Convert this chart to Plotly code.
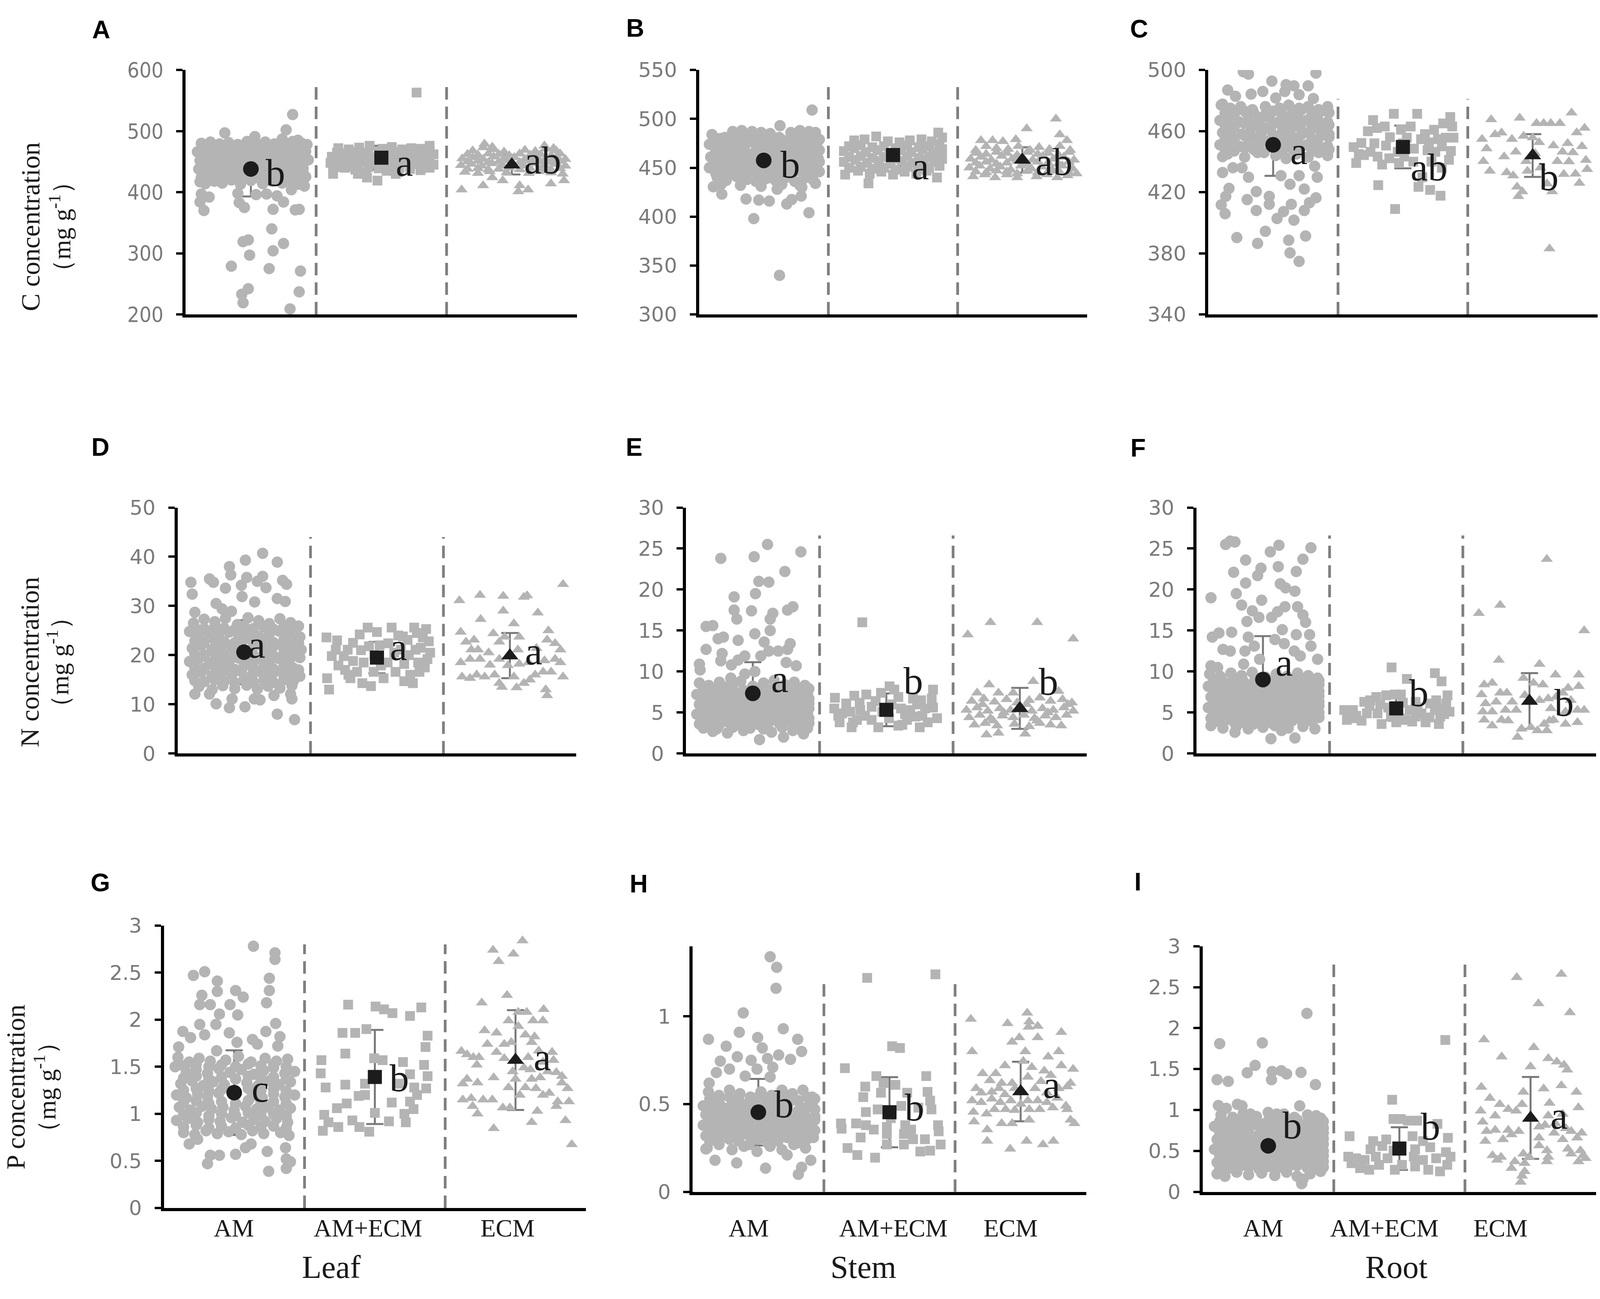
import plotly.graph_objects as go

W, H = 4550, 3326

# ---------------------------------------------------------------------------
# Data: each point is (jitter offset from the group centre,
# concentration).  Groups are AM (circles), AM+ECM (squares), ECM (triangles).
# ---------------------------------------------------------------------------
GROUPS = ["AM", "AM+ECM", "ECM"]

# ---- A: leaf C ----
A_AM = [(-0.38,480),(-0.31,482),(-0.24,479),(-0.17,481),(-0.10,478),(-0.03,483),(0.04,480),(0.11,482),(0.18,479),(0.25,481),(0.32,483),(0.39,480),(0.43,478),
        (-0.41,466),(-0.35,468),(-0.28,465),(-0.21,469),(-0.14,466),(-0.07,468),(0.00,465),(0.07,467),(0.14,469),(0.21,466),(0.28,468),(0.35,465),(0.42,467),
        (-0.39,452),(-0.32,454),(-0.25,451),(-0.18,455),(-0.11,452),(-0.04,454),(0.03,451),(0.10,453),(0.17,455),(0.24,452),(0.31,454),(0.38,451),(0.44,453),
        (-0.40,438),(-0.33,440),(-0.26,437),(-0.19,441),(-0.12,438),(-0.05,440),(0.05,437),(0.12,441),(0.19,438),(0.26,440),(0.33,437),(0.40,439),
        (-0.38,424),(-0.31,426),(-0.24,423),(-0.17,427),(-0.10,424),(-0.02,426),(0.06,423),(0.14,427),(0.21,424),(0.28,426),(0.35,423),(0.42,425),
        (-0.35,414),(-0.22,415),(-0.08,413),(0.09,414),(0.24,415),(0.36,413),
        (-0.37,474),(-0.30,473),(-0.23,475),(-0.16,474),(-0.09,472),(-0.02,475),(0.05,473),(0.12,474),(0.19,476),(0.26,473),(0.33,475),(0.40,474),
        (-0.37,460),(-0.30,459),(-0.23,461),(-0.16,460),(-0.09,458),(-0.02,461),(0.05,459),(0.12,460),(0.19,462),(0.26,459),(0.33,461),(0.40,460),
        (-0.37,446),(-0.30,445),(-0.23,447),(-0.16,446),(-0.09,444),(-0.02,447),(0.05,445),(0.12,446),(0.19,448),(0.26,445),(0.33,447),(0.40,446),
        (-0.37,432),(-0.30,431),(-0.23,433),(-0.16,432),(-0.09,430),(-0.02,433),(0.05,431),(0.12,432),(0.19,434),(0.26,431),(0.33,433),(0.40,432),
        (-0.37,419),(-0.28,418),(-0.15,420),(0.00,419),(0.16,418),(0.30,420),(0.40,418),
        (0.32,527),(0.27,502),(-0.20,497),(0.03,491),(0.24,487),(0.36,485),(-0.39,417),(-0.38,397),(-0.32,392),(-0.39,384),(-0.36,370),
        (-0.10,398),(-0.09,383),(-0.05,375),(0.04,396),(0.12,397),(0.20,394),(0.25,384),(0.17,372),(0.31,404),(0.34,371),(0.37,372),(0.41,410),
        (0.16,340),(-0.06,319),(-0.02,322),(-0.01,297),(0.25,316),(0.17,304),(-0.15,279),(0.14,275),(0.38,271),(-0.07,233),(-0.02,242),
        (-0.06,219),(0.37,237),(0.30,209)]
A_AMECM = [(-0.33,472),(-0.25,470),(-0.17,473),(-0.09,476),(0.01,471),(0.08,474),(0.16,470),(0.23,472),(0.30,471),(0.37,476),
           (-0.38,458),(-0.30,461),(-0.22,458),(-0.14,460),(-0.06,457),(0.02,460),(0.10,458),(0.18,461),(0.26,457),(0.34,459),(0.40,462),
           (-0.39,448),(-0.31,446),(-0.23,449),(-0.15,450),(-0.07,446),(0.03,447),(0.11,449),(0.19,448),(0.27,446),(0.35,449),(0.40,445),
           (-0.37,436),(-0.28,440),(-0.20,437),(-0.12,433),(0.04,435),(0.13,433),(0.22,438),(0.30,436),(0.36,441),
           (-0.34,465),(-0.26,464),(-0.18,466),(-0.10,465),(-0.02,467),(0.06,464),(0.14,466),(0.22,465),(0.30,464),(0.37,467),
           (-0.34,453),(-0.26,452),(-0.18,454),(-0.10,453),(-0.02,451),(0.06,454),(0.14,452),(0.22,453),(0.30,455),(0.37,452),
           (-0.34,441),(-0.26,442),(-0.18,440),(-0.10,441),(-0.02,439),(0.06,442),(0.14,440),(0.22,443),(0.30,441),(0.37,440),
           (-0.37,430),(-0.18,430),(-0.11,424),(-0.03,419),(0.11,430),(0.27,563),(-0.02,440)]
A_ECM = [(-0.30,468),(-0.22,473),(-0.14,470),(-0.06,466),(0.10,469),(0.18,467),(0.26,471),(0.34,468),
         (-0.38,455),(-0.30,457),(-0.22,454),(-0.14,458),(-0.06,455),(0.02,457),(0.10,454),(0.18,458),(0.26,455),(0.34,457),(0.41,454),
         (-0.39,444),(-0.31,446),(-0.23,443),(-0.15,447),(-0.07,444),(0.01,446),(0.09,443),(0.17,447),(0.25,444),(0.33,446),(0.41,443),
         (-0.36,433),(-0.26,431),(-0.17,434),(-0.04,432),(0.13,431),(0.21,434),(0.30,432),(0.39,430),
         (-0.34,462),(-0.26,461),(-0.18,463),(-0.10,462),(-0.02,460),(0.06,463),(0.14,461),(0.22,462),(0.30,460),(0.37,463),
         (-0.34,450),(-0.26,451),(-0.18,449),(-0.10,450),(-0.02,452),(0.06,449),(0.14,451),(0.22,450),(0.30,449),(0.37,451),
         (-0.34,438),(-0.26,439),(-0.18,437),(-0.10,438),(-0.02,440),(0.06,437),(0.14,439),(0.22,438),(0.30,437),(0.37,439),
         (-0.385,404),(-0.22,411),(0.05,401),(0.125,404),(0.30,414),(0.40,419),(-0.07,419),(0.06,411),(-0.15,424),
         (-0.21,479),(-0.15,474),(0.25,476),(0.32,472)]
MEAN_A = [438, 456.4, 445]
SD_A = [45, 19.5, 16]
SIG_A = ["b", "a", "ab"]

# ---- B: stem C ----
B_AM = [(-0.40,484),(-0.33,480),(-0.24,487),(-0.17,488),(-0.09,487),(-0.02,486),(0.05,485),(0.12,481),(0.21,486),(0.28,488),(0.35,487),(0.40,486),
        (-0.42,474),(-0.35,472),(-0.27,475),(-0.20,473),(-0.12,476),(-0.05,472),(0.03,474),(0.10,475),(0.18,472),(0.25,476),(0.33,473),(0.41,475),
        (-0.41,461),(-0.34,463),(-0.26,460),(-0.19,464),(-0.11,461),(-0.04,463),(0.04,460),(0.11,462),(0.19,464),(0.26,461),(0.34,463),(0.42,460),
        (-0.42,450),(-0.35,448),(-0.27,451),(-0.20,449),(-0.12,452),(-0.05,448),(0.03,450),(0.10,451),(0.18,448),(0.25,452),(0.33,449),(0.41,451),
        (-0.36,440),(-0.29,437),(-0.21,441),(-0.13,438),(-0.06,436),(0.02,439),(0.09,437),(0.17,440),(0.24,436),(0.31,439),(0.38,438),
        (-0.37,480),(-0.30,481),(-0.22,479),(-0.15,482),(-0.07,480),(0.00,479),(0.07,481),(0.15,478),(0.22,480),(0.30,482),(0.37,480),(0.43,479),
        (-0.37,468),(-0.30,467),(-0.22,469),(-0.15,468),(-0.07,466),(0.00,469),(0.07,467),(0.15,468),(0.22,470),(0.30,467),(0.37,469),(0.43,468),
        (-0.37,456),(-0.30,455),(-0.22,457),(-0.15,456),(-0.07,454),(0.00,457),(0.07,455),(0.15,456),(0.22,458),(0.30,455),(0.37,457),(0.43,456),
        (-0.37,444),(-0.30,445),(-0.22,443),(-0.15,444),(-0.07,446),(0.00,443),(0.07,445),(0.15,444),(0.22,443),(0.30,445),(0.37,444),(0.43,446),
        (-0.33,433),(-0.18,432),(-0.02,431),(0.14,433),(0.28,432),(0.40,434),
        (0.374,509),(0.126,493),(-0.39,430.5),(-0.324,423),(-0.137,418),(-0.038,417),(0.043,416),(-0.077,398),(0.178,413),(0.216,417.5),
        (0.29,421),(0.35,404),(0.122,340),(0.104,428),(0.295,430)]
B_AMECM = [(-0.30,478),(-0.22,479),(-0.13,482),(-0.04,477),(0.05,476),(0.13,478),(0.22,479),(0.30,477),(0.35,486),(0.38,481),
           (-0.38,467),(-0.30,470),(-0.21,466),(-0.12,468),(-0.03,465),(0.06,468),(0.14,466),(0.23,469),(0.31,466),(0.38,469),
           (-0.38,456),(-0.29,458),(-0.20,455),(-0.11,457),(-0.02,454),(0.07,457),(0.15,455),(0.24,458),(0.32,456),(0.38,459),
           (-0.37,443),(-0.27,447),(-0.18,444),(-0.09,446),(0.00,443),(0.09,446),(0.18,444),(0.26,447),(0.34,440),
           (-0.34,472),(-0.25,473),(-0.16,471),(-0.07,472),(0.02,470),(0.11,473),(0.20,471),(0.28,472),(0.36,474),
           (-0.34,461),(-0.25,462),(-0.16,460),(-0.07,461),(0.02,459),(0.11,462),(0.20,460),(0.28,461),(0.36,463),
           (-0.34,450),(-0.25,451),(-0.16,449),(-0.07,450),(0.02,448),(0.11,451),(0.20,449),(0.28,450),(0.36,452),
           (-0.19,434),(-0.11,451),(0.19,451)]
B_ECM = [(-0.36,468),(-0.28,472),(-0.20,470),(-0.11,469),(-0.03,472),(0.06,468),(0.13,471),(0.21,469),(0.29,472),(0.37,468),
         (-0.40,459),(-0.32,461),(-0.24,458),(-0.16,462),(-0.08,459),(0.00,461),(0.08,458),(0.16,462),(0.24,459),(0.32,461),(0.40,458),
         (-0.41,450),(-0.33,452),(-0.25,449),(-0.17,451),(-0.09,448),(-0.01,452),(0.07,449),(0.15,451),(0.23,448),(0.31,452),(0.39,449),
         (-0.38,441),(-0.29,443),(-0.21,440),(-0.12,443),(-0.04,440),(0.11,441),(0.19,443),(0.27,440),(0.35,442),(0.42,444),
         (-0.36,465),(-0.28,464),(-0.20,466),(-0.12,465),(-0.04,463),(0.04,466),(0.12,464),(0.20,465),(0.28,463),(0.36,466),
         (-0.36,455),(-0.28,456),(-0.20,454),(-0.12,455),(-0.04,457),(0.04,454),(0.12,456),(0.20,455),(0.28,454),(0.36,456),
         (-0.36,446),(-0.28,445),(-0.20,447),(-0.12,446),(-0.04,444),(0.04,447),(0.12,445),(0.20,446),(0.28,447),(0.36,445),
         (0.26,500),(0.29,484),(0.034,490),(0.345,478),(-0.32,478),(-0.23,478),(-0.15,477),(-0.05,479)]
MEAN_B = [457.5, 463, 458]
SD_B = [18, 11, 13]
SIG_B = ["b", "a", "ab"]

# ---- C: root C ----
C_AM = [(-0.40,477),(-0.33,475),(-0.25,476),(-0.16,474),(-0.06,476),(0.05,475),(0.12,477),(0.20,475),(0.27,476),(0.35,474),(0.42,476),
        (-0.41,467),(-0.34,469),(-0.26,466),(-0.19,470),(-0.11,467),(-0.04,469),(0.04,466),(0.11,468),(0.19,470),(0.26,467),(0.34,469),(0.42,466),
        (-0.39,459),(-0.32,461),(-0.24,458),(-0.17,462),(-0.09,459),(-0.02,461),(0.06,458),(0.13,460),(0.21,462),(0.28,459),(0.36,461),(0.43,458),
        (-0.41,451),(-0.34,453),(-0.26,450),(-0.19,454),(-0.11,451),(-0.04,453),(0.04,450),(0.11,452),(0.19,454),(0.26,451),(0.34,453),(0.42,450),
        (-0.35,445),(-0.22,443),(-0.12,446),(0.02,444),(0.10,442),(0.18,445),(0.27,443),(0.35,446),(0.42,444),
        (-0.37,472),(-0.30,471),(-0.22,473),(-0.15,472),(-0.07,470),(0.00,473),(0.07,471),(0.15,472),(0.22,474),(0.30,471),(0.37,473),(0.43,472),
        (-0.37,464),(-0.30,463),(-0.22,465),(-0.15,464),(-0.07,462),(0.00,465),(0.07,463),(0.15,464),(0.22,466),(0.30,463),(0.37,465),(0.43,464),
        (-0.37,456),(-0.30,455),(-0.22,457),(-0.15,456),(-0.07,454),(0.00,457),(0.07,455),(0.15,456),(0.22,458),(0.30,455),(0.37,457),(0.43,456),
        (-0.37,448),(-0.30,447),(-0.22,449),(-0.15,448),(-0.07,446),(0.00,449),(0.07,447),(0.15,448),(0.22,450),(0.30,447),(0.37,449),(0.43,448),
        (-0.23,498.8),(-0.19,497.3),(-0.01,492.7),(0.33,497.9),(0.10,490.4),(0.16,489.6),(0.27,489.6),(-0.35,486.9),(-0.17,484.2),
        (-0.08,485.9),(0.02,481.7),(0.09,485.9),(0.20,483.8),(0.31,481.3),(-0.39,477.6),(-0.29,482.8),
        (-0.39,443.3),(-0.39,432.9),(-0.31,436),(-0.34,422.5),(-0.365,417.3),(-0.40,411.7),(-0.37,405.9),(-0.28,390.3),(-0.20,415.2),
        (-0.13,420.4),(-0.13,408),(-0.12,386.5),(-0.06,394.4),(-0.03,417.3),(-0.03,412.1),(0.03,402.8),(0.08,407.3),(0.13,425.2),
        (0.14,412.1),(0.12,388.6),(0.13,380.3),(0.16,401.7),(0.20,374.7),(0.24,422.1),(0.24,408),(0.25,391.3),(0.28,413.1),
        (0.33,416.3),(0.34,429.8),(0.32,437),(0.20,430.8),(0.06,430.8),(-0.19,429.8),(-0.24,436)]
C_AMECM = [(-0.38,449.5),(-0.36,439.1),(-0.32,452.2),(-0.27,459.9),(-0.23,467.2),(-0.195,443.3),(-0.19,424.6),(-0.16,438.1),(-0.14,463),
           (-0.105,442.2),(-0.07,471.3),(-0.06,409),(-0.04,446.4),(-0.03,439.1),(-0.015,460.9),(0.03,455.7),(0.06,463),(0.085,448.5),
           (0.11,471.3),(0.12,423.5),(0.14,454.7),(0.15,429.8),(0.19,447.4),(0.21,421.5),(0.24,460.9),(0.25,446.4),(0.29,417.7),
           (0.30,436),(0.33,455.7),(0.355,441.2),(0.365,469.2),(0.38,463),(0.39,455.7),(0.01,443.3),(-0.25,446.4),(-0.13,450.5),
           (0.27,454.7),(0.20,452.6),(0.31,465),(-0.30,444.3),
           (-0.34,445),(-0.22,452),(-0.10,456),(0.00,452),(0.08,440),(0.17,458),(0.30,450),(0.37,447),(-0.20,462),(0.22,440)]
C_ECM = [(-0.39,454.7),(-0.32,467.6),(-0.10,468.6),(-0.355,448.5),(-0.38,440.2),(-0.33,433.9),(-0.29,457.8),(-0.24,458.9),(-0.22,443.3),
         (-0.20,432.9),(-0.16,454.7),(-0.15,430.8),(-0.13,446.4),(-0.12,423.5),(-0.11,417.3),(-0.08,420.4),(-0.07,456.8),(-0.05,440.2),
         (-0.04,433.9),(0.03,465.1),(0.05,452.6),(0.06,436),(0.085,465.1),(0.11,425.6),(0.13,383),(0.14,465.1),(0.16,450.5),
         (0.19,440.2),(0.21,465.1),(0.23,446.4),(0.24,431.8),(0.15,420.4),(0.00,455.7),(0.02,445.3),
         (0.30,472),(0.34,459),(0.38,450),(0.41,441),(0.28,440),(0.33,432),(0.36,426),(0.40,462),(0.27,452),(0.31,446),(0.42,435)]
MEAN_C = [451, 449.6, 444]
SD_C = [20.3, 14, 14]
SIG_C = ["a", "ab", "b"]

# ---- D: leaf N ----
D_AM = [(-0.38,26.5),(-0.30,27.3),(-0.22,26.8),(-0.14,27.5),(-0.05,26.2),(0.03,27.6),(0.11,27.0),(0.19,26.4),(0.27,27.4),(0.35,26.6),(0.41,25.9),
        (-0.41,24.8),(-0.34,24.0),(-0.26,24.5),(-0.19,23.9),(-0.11,24.7),(-0.04,24.1),(0.04,24.6),(0.11,23.8),(0.19,24.4),(0.26,24.9),(0.34,24.2),(0.42,23.7),
        (-0.39,21.4),(-0.32,22.0),(-0.24,21.2),(-0.17,21.8),(-0.09,21.5),(-0.02,22.1),(0.06,21.3),(0.13,21.9),(0.21,21.4),(0.28,22.0),(0.36,21.6),(0.43,21.1),
        (-0.41,18.7),(-0.34,19.3),(-0.26,18.5),(-0.19,19.1),(-0.11,18.8),(-0.04,19.4),(0.04,18.6),(0.11,19.2),(0.19,18.7),(0.26,19.3),(0.34,18.9),(0.42,19.5),
        (-0.39,16.0),(-0.32,16.6),(-0.24,15.8),(-0.17,16.4),(-0.09,16.1),(-0.02,16.7),(0.06,15.9),(0.13,16.5),(0.21,16.0),(0.28,16.6),(0.36,16.2),(0.42,15.7),
        (-0.34,13.6),(-0.24,13.0),(-0.16,13.8),(-0.07,13.2),(0.02,13.9),(0.10,13.1),(0.18,13.7),(0.27,13.3),(0.36,13.8),
        (-0.37,25.6),(-0.30,25.4),(-0.22,25.8),(-0.15,25.5),(-0.07,25.2),(0.00,25.9),(0.07,25.4),(0.15,25.7),(0.22,25.3),(0.30,25.8),(0.37,25.5),
        (-0.37,22.9),(-0.30,22.7),(-0.22,23.1),(-0.15,22.8),(-0.07,22.5),(0.00,23.2),(0.07,22.7),(0.15,23.0),(0.22,22.6),(0.30,23.1),(0.37,22.8),(0.41,22.4),
        (-0.37,20.2),(-0.30,20.0),(-0.22,20.4),(-0.15,20.1),(-0.07,19.8),(0.00,20.5),(0.07,20.0),(0.15,20.3),(0.22,19.9),(0.30,20.4),(0.37,20.1),(0.41,19.7),
        (-0.37,17.5),(-0.30,17.3),(-0.22,17.7),(-0.15,17.4),(-0.07,17.1),(0.00,17.8),(0.07,17.3),(0.15,17.6),(0.22,17.2),(0.30,17.7),(0.37,17.4),(0.41,17.0),
        (-0.37,14.8),(-0.30,14.6),(-0.22,15.0),(-0.15,14.7),(-0.07,14.4),(0.00,15.1),(0.07,14.6),(0.15,14.9),(0.22,14.5),(0.30,15.0),(0.37,14.7),
        (0.14,40.7),(0.01,39.3),(0.25,38.9),(-0.11,38.0),(-0.10,36.3),(0.02,35.8),(0.14,36.0),(-0.40,34.8),(-0.26,35.5),(-0.23,34.8),
        (-0.14,33.6),(-0.02,34.2),(0.10,35.0),(0.165,33.7),(0.29,35.2),(0.32,34.4),(-0.39,32.4),(-0.015,31.9),(0.25,31.5),(0.31,30.9),
        (-0.37,28.7),(-0.21,30.5),(-0.165,29.4),(-0.095,28.9),(0.08,30.8),(-0.37,12.1),(-0.21,10.1),(-0.11,9.3),(-0.09,11.1),
        (0.007,9.5),(0.077,11.1),(0.12,10.9),(0.225,11.8),(0.25,8.0),(0.36,11.1),(0.38,6.9),(-0.26,12.1),(0.35,12.1)]
D_AMECM = [(-0.38,23.6),(-0.375,15.3),(-0.36,13.0),(-0.34,19.8),(-0.29,17.9),(-0.25,19.8),(-0.22,21.1),(-0.215,16.0),(-0.18,18.8),
           (-0.15,16.6),(-0.13,24.2),(-0.11,14.3),(-0.07,25.6),(-0.06,21.8),(-0.045,13.7),(-0.025,16.6),(0.00,24.7),(0.03,17.9),
           (0.05,15.3),(0.11,25.6),(0.13,20.5),(0.14,16.6),(0.18,21.1),(0.205,18.2),(0.23,23.1),(0.25,16.0),(0.27,14.3),(0.28,25.6),
           (0.29,21.1),(0.31,18.5),(0.32,16.6),(0.345,23.6),(0.37,25.3),(0.38,19.2),(0.39,22.8),(0.40,20.5),(0.205,14.7),(-0.20,15.3),
           (-0.31,21.1),(0.085,22.4),(-0.10,18.5),(0.195,23.8),
           (-0.30,23.0),(-0.18,22.5),(-0.02,20.0),(0.08,18.5),(0.24,20.0),(0.33,21.5),(-0.12,21.0),(0.16,24.0),(-0.24,17.0),(0.02,22.0),
           (0.30,24.5),(0.36,17.5)]
D_ECM = [(-0.38,31.1),(-0.225,32.2),(-0.05,32.0),(0.105,31.8),(0.13,32.1),(0.40,34.4),(-0.05,29.0),(0.21,28.6),(-0.22,27.3),(0.03,26.4),
         (-0.37,24.7),(0.29,25.0),(-0.125,24.4),(-0.33,22.7),(-0.27,23.1),(0.34,22.4),(0.07,23.7),(-0.08,22.7),(-0.29,21.1),(-0.24,21.1),
         (0.20,21.4),(0.28,23.1),(-0.37,18.5),(-0.30,19.2),(-0.225,19.2),(-0.15,18.0),(-0.08,19.2),(-0.015,17.9),(0.14,18.5),(0.26,18.9),
         (0.34,19.2),(0.38,18.5),(-0.36,15.6),(-0.30,15.3),(-0.25,16.0),(-0.19,15.6),(-0.115,16.0),(-0.08,14.3),(-0.06,13.5),(0.03,15.6),
         (0.05,13.4),(0.105,14.3),(0.15,15.0),(0.19,16.0),(0.25,16.6),(0.27,13.0),(0.28,11.8),(0.40,15.6),(0.31,16.6),(0.07,18.2),
         (-0.16,20.5),(0.38,21.1),(0.06,21.1),(-0.04,23.7)]
MEAN_D = [20.6, 19.5, 19.9]
SD_D = [6.5, 3.2, 4.6]
SIG_D = ["a", "a", "a"]

# ---- E: stem N ----
E_AM = [(-0.40,8.6),(-0.33,8.3),(-0.25,8.7),(-0.17,8.4),(-0.09,8.8),(0.00,8.2),(0.08,8.6),(0.16,8.9),(0.24,8.4),(0.31,8.7),(0.39,8.3),
        (-0.42,7.2),(-0.35,7.5),(-0.27,7.1),(-0.20,7.4),(-0.12,7.2),(-0.05,7.6),(0.03,7.1),(0.10,7.4),(0.18,7.2),(0.25,7.5),(0.33,7.1),(0.41,7.4),
        (-0.40,6.0),(-0.33,6.3),(-0.25,5.9),(-0.18,6.2),(-0.10,6.0),(-0.03,6.3),(0.05,5.9),(0.12,6.2),(0.20,6.0),(0.27,6.3),(0.35,5.9),(0.42,6.1),
        (-0.42,4.8),(-0.35,5.1),(-0.27,4.7),(-0.20,5.0),(-0.12,4.8),(-0.05,5.1),(0.03,4.7),(0.10,5.0),(0.18,4.8),(0.25,5.1),(0.33,4.7),(0.41,5.0),
        (-0.40,3.6),(-0.33,3.9),(-0.25,3.5),(-0.18,3.8),(-0.10,3.6),(-0.03,3.9),(0.05,3.5),(0.12,3.8),(0.20,3.6),(0.27,3.9),(0.35,3.5),(0.42,3.7),
        (-0.30,2.7),(-0.19,2.5),(-0.07,2.8),(0.14,2.6),(0.30,2.8),(0.38,2.4),
        (-0.37,7.9),(-0.30,7.8),(-0.22,8.0),(-0.15,7.9),(-0.07,7.7),(0.00,8.0),(0.07,7.8),(0.15,7.9),(0.22,8.1),(0.30,7.8),(0.37,8.0),(0.42,7.9),
        (-0.37,6.7),(-0.30,6.6),(-0.22,6.8),(-0.15,6.7),(-0.07,6.5),(0.00,6.8),(0.07,6.6),(0.15,6.7),(0.22,6.9),(0.30,6.6),(0.37,6.8),(0.42,6.7),
        (-0.37,5.5),(-0.30,5.4),(-0.22,5.6),(-0.15,5.5),(-0.07,5.3),(0.00,5.6),(0.07,5.4),(0.15,5.5),(0.22,5.7),(0.30,5.4),(0.37,5.6),(0.42,5.5),
        (-0.37,4.3),(-0.30,4.2),(-0.22,4.4),(-0.15,4.3),(-0.07,4.1),(0.00,4.4),(0.07,4.2),(0.15,4.3),(0.22,4.5),(0.30,4.2),(0.37,4.4),(0.42,4.3),
        (-0.37,3.1),(-0.27,3.0),(-0.15,3.2),(-0.02,3.1),(0.08,3.0),(0.22,3.2),(0.33,3.0),(0.41,3.1),
        (0.11,25.5),(-0.24,23.8),(0.01,24.0),(0.36,24.6),(0.24,22.2),(0.045,21.0),(0.12,20.9),(0.02,19.5),(-0.14,19.1),(-0.14,17.5),
        (-0.01,17.4),(0.15,17.1),(0.30,17.9),(0.26,17.5),(0.13,16.4),(-0.12,16.4),(-0.35,15.5),(-0.30,15.6),(-0.26,14.0),(-0.22,14.2),
        (-0.11,13.8),(0.015,14.6),(0.085,13.6),(0.13,15.0),(0.28,13.4),(-0.35,12.7),(-0.23,12.2),(-0.11,11.4),(-0.06,11.9),(0.06,11.9),
        (0.12,12.5),(0.19,12.5),(0.26,12.7),(-0.40,10.9),(-0.395,10.2),(-0.24,11.3),(-0.16,10.8),(0.325,10.7),(0.25,11.1),(-0.165,9.2),
        (-0.06,9.7),(0.015,10.0),(0.05,1.7),(0.23,2.0)]
E_AMECM = [(-0.18,16.0),(-0.385,6.8),(-0.24,7.05),(0.024,8.2),(0.35,7.8),(0.34,6.7),(0.29,5.5),(-0.39,5.5),(-0.35,3.8),(-0.26,3.2),
           (-0.06,3.2),(0.09,3.4),(0.25,3.2),(0.38,4.3),(-0.27,5.1),(-0.195,5.3),(-0.11,5.7),(-0.03,5.1),(0.11,5.5),(0.18,5.3),
           (0.22,4.5),(-0.11,4.1),(0.155,4.1),(-0.33,4.9),(-0.15,7.2),(-0.04,7.4),(0.09,6.9),(0.20,6.7),(-0.22,4.1),(0.02,4.3),
           (0.31,3.8),(-0.30,6.1),(0.26,6.5),
           (-0.36,4.6),(-0.30,5.6),(-0.20,6.2),(-0.08,6.4),(0.04,6.0),(0.14,4.8),(0.27,4.6),(0.35,5.6),(-0.16,4.6),(0.00,5.2),
           (0.23,6.0),(-0.25,3.8),(0.12,3.5),(0.06,7.8)]
E_ECM = [(-0.39,14.5),(-0.22,16.0),(0.13,16.0),(0.40,14.0),(-0.23,8.4),(0.10,8.8),(-0.32,7.4),(-0.16,7.4),(-0.05,7.4),(0.29,7.6),
         (-0.25,2.3),(-0.16,2.5),(0.04,2.4),
         (-0.36,6.4),(-0.27,6.7),(-0.19,6.3),(-0.10,6.6),(-0.02,6.2),(0.07,6.5),(0.15,6.8),(0.23,6.4),(0.32,6.6),(0.39,6.2),
         (-0.40,5.3),(-0.32,5.6),(-0.24,5.2),(-0.15,5.5),(-0.07,5.3),(0.01,5.6),(0.09,5.2),(0.17,5.5),(0.25,5.3),(0.33,5.6),(0.40,5.2),
         (-0.38,4.4),(-0.30,4.7),(-0.22,4.3),(-0.13,4.6),(-0.05,4.4),(0.03,4.7),(0.11,4.3),(0.19,4.6),(0.27,4.4),(0.35,4.7),
         (-0.34,3.5),(-0.26,3.7),(-0.17,3.4),(-0.04,3.6),(0.07,3.3),(0.15,3.7),(0.23,3.5),(0.31,3.4),
         (-0.28,6.0),(-0.12,5.0),(0.05,6.0),(0.21,5.0),(0.36,6.0),(-0.20,4.0),(0.13,4.0)]
MEAN_E = [7.34, 5.33, 5.51]
SD_E = [3.8, 2.0, 2.5]
SIG_E = ["a", "b", "b"]

# ---- F: root N ----
F_AM = [(-0.40,9.7),(-0.32,9.4),(-0.24,9.8),(-0.16,9.5),(-0.08,9.9),(0.02,9.3),(0.10,9.7),(0.18,9.4),(0.26,9.8),(0.34,9.5),(0.41,9.2),
        (-0.41,8.2),(-0.34,8.5),(-0.26,8.1),(-0.19,8.4),(-0.11,8.2),(-0.04,8.5),(0.04,8.1),(0.11,8.4),(0.19,8.2),(0.26,8.5),(0.34,8.1),(0.42,8.4),
        (-0.39,6.9),(-0.32,7.2),(-0.24,6.8),(-0.17,7.1),(-0.09,6.9),(-0.02,7.2),(0.06,6.8),(0.13,7.1),(0.21,6.9),(0.28,7.2),(0.36,6.8),(0.42,7.0),
        (-0.41,5.6),(-0.34,5.9),(-0.26,5.5),(-0.19,5.8),(-0.11,5.6),(-0.04,5.9),(0.04,5.5),(0.11,5.8),(0.19,5.6),(0.26,5.9),(0.34,5.5),(0.42,5.8),
        (-0.39,4.3),(-0.32,4.6),(-0.24,4.2),(-0.17,4.5),(-0.09,4.3),(-0.02,4.6),(0.06,4.2),(0.13,4.5),(0.21,4.3),(0.28,4.6),(0.36,4.2),(0.42,4.4),
        (-0.39,3.4),(-0.30,3.1),(-0.20,3.3),(-0.11,3.0),(0.00,3.2),(0.09,3.4),(0.19,3.1),(0.30,3.3),(0.39,3.0),
        (-0.37,8.9),(-0.30,8.8),(-0.22,9.0),(-0.15,8.9),(-0.07,8.7),(0.00,9.0),(0.07,8.8),(0.15,8.9),(0.22,9.1),(0.30,8.8),(0.37,9.0),(0.42,8.9),
        (-0.37,7.6),(-0.30,7.5),(-0.22,7.7),(-0.15,7.6),(-0.07,7.4),(0.00,7.7),(0.07,7.5),(0.15,7.6),(0.22,7.8),(0.30,7.5),(0.37,7.7),(0.42,7.6),
        (-0.37,6.3),(-0.30,6.2),(-0.22,6.4),(-0.15,6.3),(-0.07,6.1),(0.00,6.4),(0.07,6.2),(0.15,6.3),(0.22,6.5),(0.30,6.2),(0.37,6.4),(0.42,6.3),
        (-0.37,5.0),(-0.30,4.9),(-0.22,5.1),(-0.15,5.0),(-0.07,4.8),(0.00,5.1),(0.07,4.9),(0.15,5.0),(0.22,5.2),(0.30,4.9),(0.37,5.1),(0.42,5.0),
        (-0.37,3.8),(-0.30,3.7),(-0.22,3.9),(-0.15,3.8),(-0.07,3.6),(0.00,3.9),(0.07,3.7),(0.15,3.8),(0.22,4.0),(0.30,3.7),(0.37,3.9),
        (-0.28,25.5),(-0.245,25.9),(-0.21,25.8),(0.12,25.4),(0.055,24.6),(0.36,25.1),(-0.13,23.6),(0.30,23.7),(-0.015,22.6),(0.115,22.8),
        (-0.04,21.7),(-0.22,22.1),(0.25,22.2),(-0.39,19.0),(-0.20,19.5),(-0.13,20.8),(-0.01,18.7),(0.13,20.7),(0.17,20.2),(0.24,19.8),
        (-0.16,18.1),(-0.08,17.4),(0.065,16.6),(0.11,17.3),(0.165,17.9),(0.26,17.9),(0.30,16.9),(0.32,16.0),(-0.12,16.1),(-0.03,16.6),
        (-0.38,14.2),(-0.33,14.7),(-0.235,14.8),(-0.11,14.2),(0.145,15.1),(0.25,14.5),(0.35,14.5),(0.09,13.9),(0.16,13.4),(-0.30,12.7),
        (-0.245,12.5),(-0.135,12.5),(-0.065,13.1),(0.235,12.5),(0.36,13.1),(0.41,11.5),(-0.39,10.7),(-0.34,10.5),(-0.145,10.9),
        (-0.025,11.5),(0.28,11.9),(0.06,1.8),(0.24,1.9),(-0.21,2.6),(0.14,2.8)]
F_AMECM = [(-0.39,5.3),(-0.37,4.1),(-0.325,5.3),(-0.26,4.0),(-0.24,6.3),(-0.195,6.5),(-0.15,6.9),(-0.14,4.9),(-0.11,3.6),(-0.075,7.1),
           (-0.04,4.5),(-0.01,7.2),(0.035,7.2),(0.07,4.1),(0.10,5.3),(0.145,4.5),(0.19,4.9),(0.22,3.8),(0.255,6.1),(0.29,5.3),
           (0.32,3.6),(0.34,5.5),(0.375,6.1),(0.40,5.1),(-0.22,4.9),(0.025,4.3),(0.33,4.5),(0.145,6.3),(-0.33,4.3),
           (-0.30,4.6),(-0.20,5.8),(-0.06,5.6),(0.05,6.2),(0.16,5.6),(0.25,4.4),(0.36,4.8),(-0.12,6.0),(0.30,6.5),(-0.36,4.8),
           (0.12,3.9),(0.00,3.8),
           (-0.035,10.5),(0.29,9.8),(0.08,9.1),(0.34,8.8),(0.385,7.1)]
F_ECM = [(0.13,23.7),(-0.22,18.1),(-0.38,17.1),(0.41,15.0),(-0.23,11.4),(0.075,10.9),(0.37,9.6),(0.195,9.6),(-0.045,9.2),(-0.28,8.6),
         (-0.34,8.4),(0.37,8.2),(0.03,8.6),(0.10,8.4),(-0.17,7.4),(-0.22,7.4),(-0.36,7.2),(0.29,8.0),(0.25,7.4),(-0.33,6.1),
         (-0.25,6.3),(-0.13,6.3),(-0.035,7.1),(0.075,6.5),(0.14,6.7),(0.20,6.9),(0.31,6.5),(-0.35,5.1),(-0.28,5.1),(-0.18,5.3),
         (-0.10,5.3),(0.16,5.5),(0.27,5.1),(0.36,5.3),(0.41,5.3),(-0.34,4.1),(-0.28,3.4),(-0.21,4.1),(-0.16,4.0),(-0.06,3.0),
         (-0.09,2.0),(0.01,3.2),(0.06,2.8),(0.11,3.6),(0.15,4.0),(0.18,4.1),(0.27,3.6),(0.36,3.8),(0.13,2.8)]
MEAN_F = [9.02, 5.51, 6.4]
SD_F = [5.3, 1.5, 3.4]
SIG_F = ["a", "b", "b"]

# ---- G: leaf P ----
G_AM = [(-0.40,1.60),(-0.32,1.55),(-0.25,1.59),(-0.17,1.56),(-0.06,1.57),(0.03,1.61),(0.12,1.55),(0.22,1.59),(0.30,1.56),(0.38,1.58),
        (-0.42,1.50),(-0.34,1.44),(-0.27,1.47),(-0.19,1.43),(-0.11,1.48),(-0.03,1.44),(0.05,1.47),(0.14,1.42),(0.21,1.46),(0.28,1.49),(0.36,1.43),(0.43,1.45),
        (-0.38,1.32),(-0.30,1.35),(-0.22,1.30),(-0.15,1.34),(-0.07,1.31),(0.09,1.33),(0.17,1.30),(0.25,1.35),(0.32,1.31),(0.40,1.34),
        (-0.41,1.20),(-0.34,1.17),(-0.26,1.21),(-0.19,1.18),(-0.11,1.22),(0.13,1.19),(0.20,1.17),(0.28,1.21),(0.36,1.18),(0.43,1.20),
        (-0.39,1.07),(-0.31,1.04),(-0.23,1.08),(-0.16,1.05),(-0.08,1.07),(0.00,1.04),(0.08,1.08),(0.16,1.05),(0.24,1.07),(0.32,1.04),(0.40,1.06),
        (-0.41,0.93),(-0.33,0.95),(-0.26,0.91),(-0.18,0.94),(-0.10,0.92),(-0.02,0.96),(0.06,0.91),(0.14,0.94),(0.22,0.92),(0.30,0.95),(0.38,0.91),
        (-0.36,0.80),(-0.28,0.78),(-0.20,0.82),(-0.12,0.79),(-0.04,0.81),(0.05,0.78),(0.13,0.82),(0.21,0.79),(0.33,0.80),(0.39,0.77),
        (-0.36,1.51),(-0.27,1.53),(-0.18,1.50),(-0.09,1.52),(0.01,1.50),(0.10,1.53),(0.19,1.51),(0.28,1.52),(0.37,1.50),
        (-0.36,1.38),(-0.27,1.40),(-0.18,1.37),(-0.09,1.39),(0.01,1.37),(0.10,1.40),(0.19,1.38),(0.28,1.39),(0.37,1.37),
        (-0.36,1.25),(-0.27,1.27),(-0.18,1.24),(-0.09,1.26),(0.10,1.27),(0.19,1.25),(0.28,1.26),(0.37,1.24),
        (-0.36,1.12),(-0.27,1.14),(-0.18,1.11),(-0.09,1.13),(0.01,1.11),(0.10,1.14),(0.19,1.12),(0.28,1.13),(0.37,1.11),
        (-0.36,0.99),(-0.27,1.01),(-0.18,0.98),(-0.09,1.00),(0.01,0.98),(0.10,1.01),(0.19,0.99),(0.28,1.00),(0.37,0.98),
        (-0.36,0.86),(-0.27,0.88),(-0.18,0.85),(-0.09,0.87),(0.01,0.85),(0.10,0.88),(0.19,0.86),(0.28,0.87),(0.37,0.85),
        (0.137,2.78),(0.29,2.71),(0.29,2.64),(-0.29,2.47),(-0.21,2.51),(-0.12,2.41),(0.25,2.44),(-0.23,2.26),(-0.12,2.30),(0.01,2.31),
        (0.064,2.24),(0.25,2.31),(-0.245,2.16),(-0.17,2.16),(-0.03,2.16),(0.23,2.18),(-0.105,2.06),(0.025,2.05),(-0.245,1.95),(-0.13,1.95),
        (-0.035,1.86),(0.295,1.96),(0.225,1.875),(-0.365,1.875),(-0.21,1.84),(-0.31,1.81),(0.02,1.76),(0.13,1.79),(0.165,1.74),(0.325,1.82),
        (-0.125,1.67),(0.31,1.72),(-0.395,1.71),(-0.19,0.47),(-0.17,0.56),(-0.105,0.56),(0.01,0.57),(0.245,0.39),(0.235,0.60),(0.37,0.52),
        (0.40,0.49),(0.37,0.42),(0.08,0.64),(0.365,0.64),(-0.32,0.68),(-0.26,0.73),(0.12,0.68)]
G_AMECM = [(-0.19,2.16),(0.005,2.14),(0.065,2.11),(0.125,2.07),(0.25,2.04),(0.33,2.13),(-0.23,1.86),(-0.14,1.86),(-0.06,1.90),(0.375,1.83),
           (-0.21,1.64),(-0.38,1.57),(-0.005,1.59),(0.055,1.57),(0.20,1.55),(0.36,1.71),(0.35,1.52),(-0.385,1.43),(0.25,1.42),(0.375,1.40),
           (-0.35,1.28),(-0.21,1.31),(-0.07,1.32),(-0.07,1.20),(0.17,1.32),(0.28,1.28),(0.365,1.27),(-0.115,1.19),(0.30,1.20),(-0.20,1.11),
           (0.12,1.12),(0.25,1.13),(-0.27,1.06),(0.275,1.05),(-0.36,0.99),(0.00,1.01),(0.21,1.00),(-0.33,0.91),(-0.16,0.93),(0.10,0.92),
           (0.22,0.91),(-0.37,0.82),(-0.26,0.86),(-0.11,0.86),(-0.04,0.81)]
G_ECM = [(0.05,2.84),(-0.16,2.74),(-0.015,2.70),(-0.12,2.62),(-0.06,2.26),(-0.24,2.18),(0.20,2.11),(0.02,2.08),(0.08,2.08),(0.195,1.99),
         (-0.05,1.99),(0.125,1.99),(-0.22,1.885),(-0.135,1.86),(0.02,1.93),(0.07,1.84),(0.135,1.82),(-0.20,1.74),(-0.08,1.74),(-0.03,1.76),
         (0.115,1.76),(0.165,1.67),(-0.385,1.665),(-0.345,1.63),(-0.30,1.60),(-0.26,1.60),(-0.135,1.655),(0.26,1.655),(-0.275,1.52),
         (-0.08,1.59),(0.09,1.60),(0.195,1.55),(0.27,1.57),(-0.02,1.45),(0.06,1.49),(0.105,1.47),(0.23,1.45),(0.29,1.44),(0.33,1.40),
         (-0.155,1.385),(0.00,1.37),(0.115,1.37),(0.175,1.385),(0.33,1.33),(-0.375,1.32),(-0.345,1.37),(-0.27,1.33),(-0.05,1.28),
         (0.07,1.28),(0.145,1.27),(0.37,1.27),(0.24,1.22),(0.195,1.20),(0.03,1.20),(0.30,1.13),(0.38,1.13),(-0.375,1.15),(-0.315,1.165),
         (-0.23,1.15),(-0.165,1.15),(-0.305,1.08),(-0.27,1.00),(-0.09,1.065),(-0.04,1.065),(0.155,1.03),(0.29,1.08),(0.115,0.91),
         (-0.155,0.845),(0.355,0.93),(0.40,0.675)]
MEAN_G = [1.225, 1.392, 1.571]
SD_G = [0.45, 0.5, 0.53]
SIG_G = ["c", "b", "a"]

# ---- H: stem P ----
H_AM = [(-0.38,0.57),(-0.30,0.55),(-0.22,0.58),(-0.14,0.56),(-0.06,0.54),(0.02,0.57),(0.10,0.55),(0.18,0.58),(0.26,0.56),(0.34,0.58),(0.41,0.54),
        (-0.42,0.49),(-0.35,0.51),(-0.27,0.48),(-0.20,0.50),(-0.12,0.49),(-0.05,0.52),(0.03,0.48),(0.10,0.51),(0.18,0.49),(0.25,0.52),(0.33,0.48),(0.41,0.50),
        (-0.40,0.44),(-0.33,0.42),(-0.25,0.45),(-0.18,0.43),(-0.10,0.45),(-0.03,0.42),(0.05,0.44),(0.12,0.43),(0.20,0.45),(0.27,0.42),(0.35,0.44),(0.43,0.43),
        (-0.42,0.38),(-0.35,0.36),(-0.27,0.39),(-0.20,0.37),(-0.12,0.39),(-0.05,0.36),(0.03,0.38),(0.10,0.37),(0.18,0.39),(0.25,0.36),(0.33,0.38),(0.41,0.37),
        (-0.40,0.32),(-0.33,0.30),(-0.25,0.33),(-0.18,0.31),(-0.10,0.33),(-0.03,0.30),(0.05,0.32),(0.12,0.31),(0.20,0.33),(0.27,0.30),(0.35,0.32),(0.42,0.31),
        (-0.39,0.25),(-0.30,0.27),(-0.20,0.24),(-0.11,0.26),(-0.01,0.23),(0.09,0.26),(0.18,0.24),(0.27,0.27),(0.36,0.25),
        (-0.37,0.53),(-0.30,0.52),(-0.22,0.54),(-0.15,0.53),(-0.07,0.51),(0.00,0.54),(0.07,0.52),(0.15,0.53),(0.22,0.55),(0.30,0.52),(0.37,0.54),(0.43,0.53),
        (-0.37,0.47),(-0.30,0.46),(-0.22,0.48),(-0.15,0.47),(-0.07,0.45),(0.00,0.48),(0.07,0.46),(0.15,0.47),(0.22,0.49),(0.30,0.46),(0.37,0.48),(0.43,0.47),
        (-0.37,0.41),(-0.30,0.40),(-0.22,0.42),(-0.15,0.41),(-0.07,0.39),(0.00,0.42),(0.07,0.40),(0.15,0.41),(0.22,0.43),(0.30,0.40),(0.37,0.42),(0.43,0.41),
        (-0.37,0.35),(-0.30,0.34),(-0.22,0.36),(-0.15,0.35),(-0.07,0.33),(0.00,0.36),(0.07,0.34),(0.15,0.35),(0.22,0.37),(0.30,0.34),(0.37,0.36),(0.43,0.35),
        (-0.37,0.29),(-0.30,0.28),(-0.22,0.30),(-0.15,0.29),(-0.07,0.27),(0.00,0.30),(0.07,0.28),(0.15,0.29),(0.22,0.31),(0.30,0.28),(0.37,0.30),
        (0.09,1.34),(0.14,1.28),(0.135,1.16),(-0.115,1.02),(0.19,0.93),(-0.38,0.87),(-0.145,0.91),(-0.005,0.88),(0.30,0.87),(-0.245,0.83),
        (0.03,0.82),(0.33,0.80),(-0.29,0.745),(-0.16,0.77),(-0.055,0.75),(0.07,0.76),(0.155,0.78),(0.245,0.755),(-0.22,0.70),(-0.01,0.70),
        (0.11,0.71),(-0.375,0.62),(-0.32,0.68),(-0.10,0.66),(0.09,0.655),(-0.33,0.18),(-0.165,0.165),(0.055,0.135),(0.305,0.10),
        (0.33,0.14),(0.40,0.18),(-0.40,0.245),(0.22,0.21)]
H_AMECM = [(-0.17,1.22),(0.35,1.24),(0.02,0.83),(0.08,0.82),(-0.34,0.705),(-0.10,0.66),(0.28,0.66),(-0.185,0.60),(-0.045,0.62),(0.045,0.61),
           (0.29,0.57),(-0.20,0.54),(-0.065,0.565),(0.135,0.565),(0.31,0.52),(-0.09,0.47),(0.09,0.49),(0.22,0.48),(0.32,0.47),(-0.37,0.39),
           (-0.365,0.36),(-0.255,0.39),(-0.18,0.38),(-0.12,0.355),(-0.02,0.37),(0.12,0.38),(0.165,0.355),(0.37,0.38),(0.375,0.345),
           (-0.22,0.31),(-0.02,0.33),(0.11,0.33),(0.18,0.30),(0.27,0.30),(-0.32,0.25),(-0.02,0.27),(0.11,0.27),(0.39,0.27),(-0.245,0.21),
           (-0.11,0.195),(0.235,0.23),(0.31,0.235),(0.01,0.42),(-0.18,0.455)]
H_ECM = [(0.05,1.02),(0.065,0.97),(-0.38,0.985),(-0.10,0.96),(0.06,0.94),(0.13,0.945),(0.31,0.91),(0.13,0.88),(-0.01,0.88),(-0.065,0.855),
         (-0.37,0.80),(0.035,0.80),(0.29,0.80),(0.21,0.77),(0.02,0.745),(-0.12,0.72),(0.085,0.71),(0.40,0.70),(-0.29,0.675),(-0.19,0.675),
         (0.18,0.69),(0.31,0.72),(0.23,0.665),(0.055,0.655),(-0.235,0.635),(-0.145,0.62),(-0.065,0.62),(0.155,0.63),(0.38,0.62),
         (-0.34,0.59),(-0.30,0.565),(-0.22,0.57),(-0.165,0.59),(-0.12,0.555),(-0.045,0.59),(0.11,0.59),(0.20,0.565),(0.29,0.59),
         (0.355,0.60),(-0.37,0.52),(-0.30,0.51),(-0.22,0.53),(-0.155,0.51),(-0.075,0.52),(0.00,0.50),(0.055,0.52),(0.13,0.52),(0.20,0.51),
         (0.28,0.535),(0.345,0.49),(-0.36,0.455),(-0.26,0.445),(-0.20,0.47),(-0.115,0.47),(-0.045,0.465),(0.065,0.47),(0.145,0.47),
         (0.245,0.48),(0.355,0.47),(-0.355,0.40),(-0.255,0.355),(-0.145,0.39),(-0.065,0.39),(0.065,0.41),(0.38,0.41),(0.41,0.39),
         (-0.255,0.29),(-0.08,0.245),(0.045,0.29),(0.17,0.27),(0.25,0.29)]
MEAN_H = [0.454, 0.454, 0.572]
SD_H = [0.19, 0.2, 0.17]
SIG_H = ["b", "b", "a"]

# ---- I: root P ----
I_AM = [(-0.36,0.94),(-0.27,0.91),(-0.19,0.96),(-0.09,0.92),(0.04,0.90),(0.12,0.95),(0.20,0.91),(0.30,0.94),(0.40,0.90),
        (-0.41,0.80),(-0.34,0.77),(-0.26,0.81),(-0.19,0.78),(-0.11,0.82),(-0.04,0.77),(0.04,0.80),(0.11,0.78),(0.19,0.82),(0.26,0.77),(0.34,0.81),(0.42,0.78),
        (-0.39,0.64),(-0.32,0.67),(-0.24,0.63),(-0.17,0.66),(-0.09,0.64),(-0.02,0.67),(0.06,0.63),(0.13,0.66),(0.21,0.64),(0.28,0.67),(0.36,0.63),(0.42,0.65),
        (-0.41,0.52),(-0.34,0.49),(-0.26,0.53),(-0.19,0.50),(-0.11,0.52),(-0.04,0.49),(0.04,0.53),(0.11,0.50),(0.19,0.52),(0.26,0.49),(0.34,0.53),(0.42,0.50),
        (-0.39,0.36),(-0.32,0.39),(-0.24,0.35),(-0.17,0.38),(-0.09,0.36),(-0.02,0.39),(0.06,0.35),(0.13,0.38),(0.21,0.36),(0.28,0.39),(0.36,0.35),(0.42,0.37),
        (-0.39,0.22),(-0.33,0.19),(-0.24,0.24),(-0.15,0.21),(-0.05,0.23),(0.05,0.20),(0.14,0.24),(0.22,0.19),(0.32,0.22),(0.40,0.25),
        (-0.37,0.86),(-0.30,0.85),(-0.22,0.87),(-0.15,0.86),(-0.07,0.84),(0.00,0.87),(0.07,0.85),(0.15,0.86),(0.22,0.88),(0.30,0.85),(0.37,0.87),(0.42,0.86),
        (-0.37,0.72),(-0.30,0.71),(-0.22,0.73),(-0.15,0.72),(-0.07,0.70),(0.00,0.73),(0.07,0.71),(0.15,0.72),(0.22,0.74),(0.30,0.71),(0.37,0.73),(0.42,0.72),
        (-0.37,0.58),(-0.30,0.57),(-0.22,0.59),(-0.15,0.58),(-0.07,0.56),(0.00,0.59),(0.07,0.57),(0.15,0.58),(0.22,0.60),(0.30,0.57),(0.37,0.59),(0.42,0.58),
        (-0.37,0.44),(-0.30,0.43),(-0.22,0.45),(-0.15,0.44),(-0.07,0.42),(0.00,0.45),(0.07,0.43),(0.15,0.44),(0.22,0.46),(0.30,0.43),(0.37,0.45),(0.42,0.44),
        (-0.37,0.30),(-0.30,0.29),(-0.22,0.31),(-0.15,0.30),(-0.07,0.28),(0.00,0.31),(0.07,0.29),(0.15,0.30),(0.22,0.32),(0.30,0.29),(0.37,0.31),(0.42,0.30),
        (0.295,2.18),(-0.37,1.81),(-0.045,1.82),(-0.10,1.545),(-0.16,1.455),(0.03,1.47),(0.10,1.48),(0.14,1.44),(0.25,1.46),(0.025,1.37),
        (-0.39,1.37),(-0.305,1.35),(0.36,1.31),(-0.38,1.055),(-0.32,1.02),(-0.235,1.07),(-0.20,1.05),(0.24,1.05),(0.365,0.93),
        (-0.135,0.95),(0.00,0.97),(0.065,0.95),(0.255,0.10),(0.265,0.155)]
I_AMECM = [(0.35,1.855),(-0.055,1.125),(-0.38,0.68),(0.37,0.66),(-0.045,0.89),(0.01,0.89),(0.065,0.87),(0.135,0.87),(0.29,0.83),(0.10,0.68),
           (-0.20,0.62),(-0.10,0.64),(0.18,0.62),(-0.22,0.52),(-0.13,0.56),(-0.045,0.505),(0.12,0.52),(0.235,0.545),(0.355,0.485),
           (-0.39,0.43),(-0.33,0.41),(-0.265,0.39),(-0.18,0.43),(-0.09,0.41),(0.11,0.43),(0.18,0.39),(0.28,0.41),(0.39,0.43),
           (-0.30,0.29),(-0.23,0.27),(-0.035,0.27),(0.12,0.31),(0.22,0.27),(0.31,0.25),(0.365,0.33),(0.02,0.33),(-0.155,0.33),(-0.365,0.35)]
I_ECM = [(0.235,2.66),(-0.105,2.62),(0.06,2.30),(0.30,2.19),(-0.355,1.86),(0.025,1.765),(-0.22,1.65),(0.135,1.63),(0.20,1.59),(0.255,1.55),
         (0.00,1.53),(0.28,1.49),(-0.375,1.28),(0.235,1.30),(-0.31,1.145),(-0.055,1.22),(0.10,1.26),(0.35,1.22),(-0.38,0.99),(-0.235,1.07),
         (-0.17,1.01),(-0.11,0.99),(-0.065,1.07),(0.145,1.085),(0.245,0.95),(0.365,1.03),(-0.365,0.855),(-0.27,0.93),(0.135,0.93),
         (0.19,0.835),(0.27,0.775),(-0.335,0.74),(-0.27,0.755),(-0.17,0.755),(-0.09,0.74),(0.065,0.795),(0.11,0.815),(0.18,0.72),
         (0.31,0.74),(0.39,0.72),(-0.345,0.62),(-0.21,0.64),(-0.145,0.70),(0.065,0.66),(0.245,0.64),(0.355,0.66),(0.065,0.565),
         (0.125,0.505),(0.285,0.525),(0.38,0.505),(-0.29,0.445),(-0.225,0.425),(-0.055,0.465),(-0.01,0.425),(0.135,0.425),(0.31,0.465),
         (0.40,0.445),(-0.255,0.39),(-0.045,0.35),(0.125,0.37),(0.365,0.37),(0.42,0.41),(-0.145,0.29),(-0.12,0.37),(-0.065,0.195),
         (-0.075,0.12),(-0.045,0.25)]
MEAN_I = [0.562, 0.529, 0.903]
SD_I = [0.3, 0.26, 0.5]
SIG_I = ["b", "b", "a"]

ROW_TITLES = ["C concentration", "N concentration", "P concentration"]
UNIT = "\uff08mg g<sup>-1</sup>\uff09"
ORGANS = ["Leaf", "Stem", "Root"]

# ---------------------------------------------------------------------------
# Panel geometry, in pixels of the 4550 x 3326 reference picture
# ---------------------------------------------------------------------------
PANELS = [
    dict(tag="A", pts=(A_AM, A_AMECM, A_ECM), mean=MEAN_A, sd=SD_A, sig=SIG_A,
         box=(528, 1641, 151, 789), yr=(200, 600), dt=100, divtop=577,
         sigpos=[(0.687, 432), (1.677, 448), (2.736, 452)], lab=(288, 46), narrow=True),
    dict(tag="B", pts=(B_AM, B_AMECM, B_ECM), mean=MEAN_B, sd=SD_B, sig=SIG_B,
         box=(1988, 3091, 151, 789), yr=(300, 550), dt=50, divtop=537,
         sigpos=[(0.704, 453), (1.712, 451.6), (2.745, 456)], lab=(1806, 42)),
    dict(tag="C", pts=(C_AM, C_AMECM, C_ECM), mean=MEAN_C, sd=SD_C, sig=SIG_C,
         box=(3436, 4543, 151, 789), yr=(340, 500), dt=40, divtop=481,
         sigpos=[(0.697, 447), (1.70, 436.3), (2.626, 429.8)], lab=(3239, 44)),
    dict(tag="D", pts=(D_AM, D_AMECM, D_ECM), mean=MEAN_D, sd=SD_D, sig=SIG_D,
         box=(505, 1639, 1293, 1935), yr=(0, 50), dt=10, divtop=44,
         sigpos=[(0.595, 22.1), (1.661, 21.65), (2.677, 20.8)], lab=(286, 1136)),
    dict(tag="E", pts=(E_AM, E_AMECM, E_ECM), mean=MEAN_E, sd=SD_E, sig=SIG_E,
         box=(1951, 3090, 1293, 1935), yr=(0, 30), dt=5, divtop=26.6,
         sigpos=[(0.70, 9.11), (1.703, 8.83), (2.713, 8.74)], lab=(1804, 1136)),
    dict(tag="F", pts=(F_AM, F_AMECM, F_ECM), mean=MEAN_F, sd=SD_F, sig=SIG_F,
         box=(3402, 4539, 1293, 1935), yr=(0, 30), dt=5, divtop=26.6,
         sigpos=[(0.657, 11.1), (1.67, 7.38), (2.76, 6.2)], lab=(3236, 1138)),
    dict(tag="G", pts=(G_AM, G_AMECM, G_ECM), mean=MEAN_G, sd=SD_G, sig=SIG_G,
         box=(466, 1666, 2384, 3121), yr=(0, 3), dt=0.5, divtop=2.8,
         sigpos=[(0.685, 1.266), (1.672, 1.38), (2.69, 1.604)], lab=(286, 2272)),
    dict(tag="H", pts=(H_AM, H_AMECM, H_ECM), mean=MEAN_H, sd=SD_H, sig=SIG_H,
         box=(1970, 3089, 2438, 3079), yr=(0, 1.4), dt=0.5, divtop=1.21,
         sigpos=[(0.697, 0.5), (1.689, 0.482), (2.737, 0.61)], lab=(1816, 2275)),
    dict(tag="I", pts=(I_AM, I_AMECM, I_ECM), mean=MEAN_I, sd=SD_I, sig=SIG_I,
         box=(3420, 4539, 2438, 3079), yr=(0, 3), dt=0.5, divtop=2.8,
         sigpos=[(0.684, 0.814), (1.737, 0.796), (2.718, 0.93)], lab=(3236, 2270)),
]

CENTERS = [0.5, 1.5, 2.5]
PT_GRAY = "#b4b4b4"
MEAN_BLACK = "#1c1c1c"
BAR_GRAY = "#787878"
SYMBOLS = ["circle", "square", "triangle-up"]
PT_SIZE = [29, 25, 27]
MEAN_SIZE = [40, 36, 38]
SERIF = "Liberation Serif, Times New Roman, serif"

fig = go.Figure()
# no fixed width/height: the figure takes the size of the browser window,
# every position below is a fraction of the page
layout = dict(autosize=True, margin=dict(l=0, r=0, t=0, b=0),
              paper_bgcolor="white", plot_bgcolor="white", showlegend=False)
shapes, annotations = [], []

for i, p in enumerate(PANELS):
    sfx = "" if i == 0 else str(i + 1)
    xa, ya = "x" + sfx, "y" + sfx
    x0, x1, yt, yb = p["box"]
    tickfont = dict(family="Liberation Sans Narrow, DejaVu Sans Condensed, DejaVu Sans" if p.get("narrow")
                    else "DejaVu Sans, Verdana, sans-serif", size=54 if p.get("narrow") else 52, color="#7a7a7a")
    layout["xaxis" + sfx] = dict(domain=[x0 / W, x1 / W], range=[0, 3], anchor=ya,
                                 showline=True, linecolor="black", linewidth=8, ticks="",
                                 showticklabels=False, showgrid=False, zeroline=False)
    yax = dict(domain=[1 - yb / H, 1 - yt / H], range=list(p["yr"]), anchor=xa,
               tick0=p["yr"][0], dtick=p["dt"], showline=True, linecolor="black", linewidth=8,
               ticks="outside", ticklen=16, tickwidth=6, tickcolor="black",
               tickfont=tickfont, showgrid=False, zeroline=False, ticklabelstandoff=22)
    if p["tag"] == "H":
        yax.update(tickvals=[0, 0.5, 1], ticktext=["0", "0.5", "1"])
    layout["yaxis" + sfx] = yax

    # error bars first so the jittered points sit on top of them
    fig.add_trace(go.Scatter(x=CENTERS, y=p["mean"], mode="markers", xaxis=xa, yaxis=ya,
                             marker=dict(size=2, color="rgba(0,0,0,0)"), hoverinfo="skip",
                             error_y=dict(type="data", array=p["sd"], visible=True,
                                          color=BAR_GRAY, thickness=5, width=22)))
    for g in range(3):
        pts = p["pts"][g]
        fig.add_trace(go.Scatter(x=[CENTERS[g] + d for d, _ in pts], y=[v for _, v in pts],
                                 mode="markers", xaxis=xa, yaxis=ya, name=GROUPS[g],
                                 marker=dict(symbol=SYMBOLS[g], size=PT_SIZE[g], color=PT_GRAY,
                                             line=dict(width=0))))
    for g in range(3):
        fig.add_trace(go.Scatter(x=[CENTERS[g]], y=[p["mean"][g]], mode="markers",
                                 xaxis=xa, yaxis=ya, name=GROUPS[g] + " mean",
                                 marker=dict(symbol=SYMBOLS[g], size=MEAN_SIZE[g], color=MEAN_BLACK,
                                             line=dict(width=0))))

    for xd in (1, 2):
        shapes.append(dict(type="line", xref=xa, yref=ya, x0=xd, x1=xd, y0=p["yr"][0], y1=p["divtop"],
                           line=dict(color="#7f7f7f", width=7, dash="32px,18px")))

    for (ux, uy), s in zip(p["sigpos"], p["sig"]):
        annotations.append(dict(xref=xa, yref=ya, x=ux, y=uy, text=s, showarrow=False,
                                xanchor="center", yanchor="middle",
                                font=dict(family=SERIF, size=100, color="#1a1a1a")))

    lx, ly = p["lab"]
    annotations.append(dict(xref="paper", yref="paper", x=lx / W, y=1 - ly / H, text="<b>%s</b>" % p["tag"],
                            showarrow=False, xanchor="center", yanchor="middle",
                            font=dict(family="Liberation Sans, Arial, sans-serif", size=64, color="black")))

# row titles on the left
for title, (tx, ux, cy) in zip(ROW_TITLES, [(87, 171, 560), (84, 165, 1697), (44, 129, 2806)]):
    annotations.append(dict(xref="paper", yref="paper", x=tx / W, y=1 - cy / H, text=title, textangle=-90,
                            showarrow=False, xanchor="center", yanchor="middle",
                            font=dict(family=SERIF, size=68, color="#1a1a1a")))
    annotations.append(dict(xref="paper", yref="paper", x=ux / W, y=1 - cy / H, text=UNIT, textangle=-90,
                            showarrow=False, xanchor="center", yanchor="middle",
                            font=dict(family=SERIF, size=64, color="#1a1a1a")))

# category labels and organ titles under the bottom row
CAT_X = [(665, 1046, 1444), (2129, 2540, 2874), (3592, 3937, 4267)]
ORG_X = [943, 2455, 3971]
for cx, org, ox in zip(CAT_X, ORGANS, ORG_X):
    for x, name in zip(cx, GROUPS):
        annotations.append(dict(xref="paper", yref="paper", x=x / W, y=1 - 3174 / H, text=name,
                                showarrow=False, xanchor="center", yanchor="middle",
                                font=dict(family=SERIF, size=64, color="#1a1a1a")))
    annotations.append(dict(xref="paper", yref="paper", x=ox / W, y=1 - 3276 / H, text=org,
                            showarrow=False, xanchor="center", yanchor="middle",
                            font=dict(family=SERIF, size=82, color="#1a1a1a")))

layout["shapes"] = shapes
layout["annotations"] = annotations
fig.update_layout(**layout)

FIT_JS = "document.body.style.margin = '0'; document.body.style.overflow = 'hidden';"
fig.write_html("out.html", default_width="100vw", default_height="100vh",
               config={"responsive": True, "displayModeBar": False}, post_script=FIT_JS)
